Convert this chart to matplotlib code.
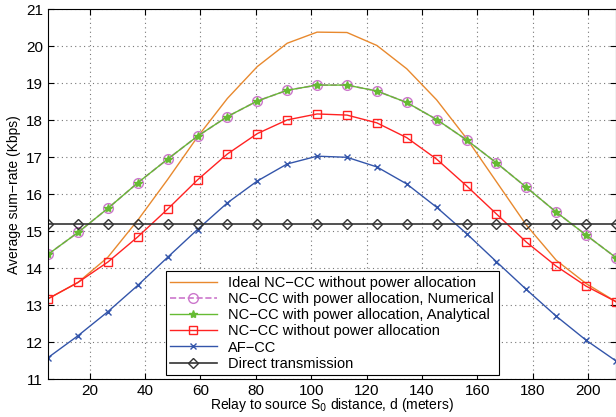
import numpy as np
from matplotlib import pyplot as plt

plt.rcParams['font.family'] = ['Liberation Sans', 'DejaVu Sans']

d = np.linspace(5, 210, 20)

ideal = [13.18, 13.62, 14.30, 15.30, 16.40, 17.55, 18.59, 19.45, 20.08, 20.38,
         20.37, 20.02, 19.39, 18.55, 17.51, 16.34, 15.17, 14.22, 13.59, 13.10]
pa_num = [14.38, 14.97, 15.62, 16.31, 16.95, 17.57, 18.10, 18.52, 18.81, 18.95,
          18.95, 18.79, 18.48, 18.02, 17.47, 16.85, 16.19, 15.52, 14.90, 14.29]
pa_ana = list(pa_num)
no_pa = [13.18, 13.62, 14.17, 14.85, 15.60, 16.39, 17.09, 17.64, 18.01, 18.17,
         18.14, 17.93, 17.53, 16.95, 16.23, 15.47, 14.71, 14.06, 13.52, 13.10]
af_cc = [11.59, 12.18, 12.83, 13.54, 14.30, 15.05, 15.77, 16.36, 16.82, 17.03,
         17.00, 16.74, 16.28, 15.65, 14.94, 14.18, 13.43, 12.71, 12.06, 11.50]
direct = [15.20] * 20

fig = plt.figure(figsize=(6.16, 4.17), dpi=100)
ax = fig.add_axes([0.078, 0.090, 0.922, 0.888])

ax.plot(d, ideal, color='#E8892E', lw=1.0,
        label='Ideal NC\u2212CC without power allocation')
ax.plot(d, pa_num, color='#CC77CC', lw=1.2, ls='--', marker='o', ms=7,
        mfc='none', mec='#CC77CC', mew=1.0,
        label='NC\u2212CC with power allocation, Numerical')
ax.plot(d, pa_ana, color='#66BB33', lw=1.0, marker='*', ms=6,
        label='NC\u2212CC with power allocation, Analytical')
ax.plot(d, no_pa, color='#FF2222', lw=1.0, marker='s', ms=6, mfc='none',
        label='NC\u2212CC without power allocation')
ax.plot(d, af_cc, color='#3355AA', lw=1.0, marker='x', ms=5,
        label='AF\u2212CC')
ax.plot(d, direct, color='#333333', lw=1.2, marker='D', ms=5, mfc='none',
        label='Direct transmission')

ax.set_xlim(5, 210)
ax.set_ylim(11, 21)
ax.set_xticks(range(20, 201, 20))
ax.set_yticks(range(11, 22))
ax.tick_params(direction='in', labelsize=11, top=True, right=True, length=4)
ax.tick_params(axis='x', pad=3)
ax.grid(True, ls=(0, (1, 3)), color='#777777', lw=0.8)

ax.set_xlabel('Relay to source S$_0$ distance, d (meters)', fontsize=10, labelpad=-1)
ax.set_ylabel('Average sum\u2212rate (Kbps)', fontsize=10, labelpad=4)

leg = ax.legend(loc='lower center', fontsize=10.5, fancybox=False,
                edgecolor='black', framealpha=1, borderaxespad=0.3,
                handlelength=3.2, labelspacing=0.15, borderpad=0.3)
leg.get_frame().set_linewidth(0.8)

fig.savefig('out.png', dpi=100)
